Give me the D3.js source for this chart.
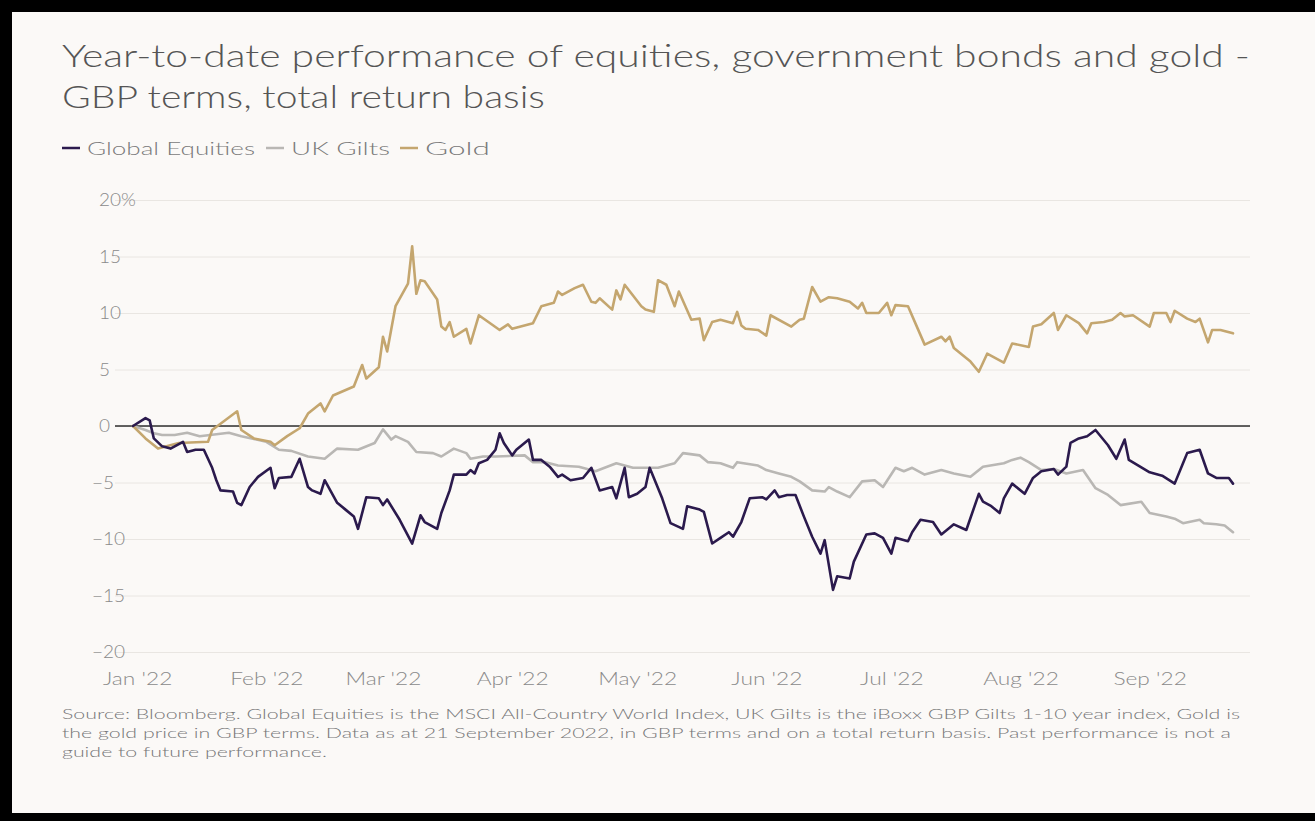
<!DOCTYPE html>
<html>
<head>
<meta charset="utf-8">
<script src="https://cdn.jsdelivr.net/npm/d3@7"></script>
<style>
  html, body { margin: 0; padding: 0; background: #000; }
  svg { display: block; }
  text { font-family: Lato, "Open Sans", "Noto Sans", sans-serif; }
</style>
</head>
<body>
<svg id="chart" width="1315" height="821"></svg>
<script>
// ---------- DATA ----------
const titleLines = ["Year-to-date performance of equities, government bonds and gold -", "GBP terms, total return basis"];
const seriesNames = ["Global Equities", "UK Gilts", "Gold"];
const seriesColors = ["#2b1a4d", "#b9b7b4", "#c4a66f"];
const yTicks = [-20, -15, -10, -5, 0, 5, 10, 15, 20];
const xTickDates = ["2022-01-01","2022-02-01","2022-03-01","2022-04-01","2022-05-01","2022-06-01","2022-07-01","2022-08-01","2022-09-01"];
const xTickLabels = ["Jan '22","Feb '22","Mar '22","Apr '22","May '22","Jun '22","Jul '22","Aug '22","Sep '22"];
const footnoteLines = [
  "Source: Bloomberg. Global Equities is the MSCI All-Country World Index, UK Gilts is the iBoxx GBP Gilts 1-10 year index, Gold is",
  "the gold price in GBP terms. Data as at 21 September 2022, in GBP terms and on a total return basis. Past performance is not a",
  "guide to future performance."
];

const equities = [
["2021-12-31",0],["2022-01-03",0.7],["2022-01-04",0.5],["2022-01-05",-1.1],["2022-01-07",-1.8],["2022-01-09",-2.0],
["2022-01-10",-1.8],["2022-01-12",-1.4],["2022-01-13",-2.3],["2022-01-15",-2.1],["2022-01-17",-2.1],["2022-01-19",-3.7],
["2022-01-20",-4.8],["2022-01-21",-5.7],["2022-01-24",-5.8],["2022-01-25",-6.8],["2022-01-26",-7.0],["2022-01-28",-5.4],
["2022-01-30",-4.5],["2022-02-02",-3.7],["2022-02-03",-5.5],["2022-02-04",-4.6],["2022-02-07",-4.5],["2022-02-09",-2.9],
["2022-02-11",-5.4],["2022-02-12",-5.7],["2022-02-14",-6.0],["2022-02-15",-4.8],["2022-02-18",-6.8],["2022-02-20",-7.4],
["2022-02-22",-8.0],["2022-02-23",-9.1],["2022-02-25",-6.3],["2022-02-28",-6.4],["2022-03-01",-7.0],["2022-03-02",-6.5],
["2022-03-05",-8.3],["2022-03-08",-10.4],["2022-03-10",-7.9],["2022-03-11",-8.5],["2022-03-14",-9.1],["2022-03-15",-7.7],
["2022-03-17",-5.7],["2022-03-18",-4.3],["2022-03-21",-4.3],["2022-03-22",-3.9],["2022-03-23",-4.2],["2022-03-24",-3.3],
["2022-03-26",-3.0],["2022-03-28",-2.1],["2022-03-29",-0.65],["2022-03-30",-1.5],["2022-04-01",-2.6],["2022-04-02",-2.1],
["2022-04-05",-1.2],["2022-04-06",-3.0],["2022-04-08",-3.0],["2022-04-10",-3.6],["2022-04-12",-4.5],["2022-04-13",-4.3],
["2022-04-15",-4.8],["2022-04-18",-4.6],["2022-04-20",-3.7],["2022-04-22",-5.7],["2022-04-25",-5.4],["2022-04-26",-6.4],
["2022-04-28",-3.7],["2022-04-29",-6.3],["2022-05-01",-6.0],["2022-05-03",-5.4],["2022-05-04",-3.7],["2022-05-07",-6.4],
["2022-05-09",-8.6],["2022-05-12",-9.1],["2022-05-13",-7.1],["2022-05-16",-7.4],["2022-05-17",-7.6],["2022-05-19",-10.4],
["2022-05-21",-9.9],["2022-05-23",-9.4],["2022-05-24",-9.8],["2022-05-26",-8.5],["2022-05-28",-6.4],["2022-05-31",-6.3],
["2022-06-01",-6.5],["2022-06-03",-5.7],["2022-06-04",-6.3],["2022-06-06",-6.1],["2022-06-08",-6.1],["2022-06-10",-8.0],
["2022-06-12",-9.8],["2022-06-14",-11.3],["2022-06-15",-10.1],["2022-06-17",-14.5],["2022-06-18",-13.3],["2022-06-21",-13.5],
["2022-06-22",-12.0],["2022-06-25",-9.6],["2022-06-27",-9.5],["2022-06-29",-9.9],["2022-07-01",-11.3],["2022-07-02",-9.9],
["2022-07-05",-10.2],["2022-07-06",-9.4],["2022-07-08",-8.3],["2022-07-11",-8.5],["2022-07-13",-9.6],["2022-07-16",-8.7],
["2022-07-19",-9.2],["2022-07-22",-6.0],["2022-07-23",-6.7],["2022-07-25",-7.1],["2022-07-27",-7.7],["2022-07-28",-6.4],
["2022-07-30",-5.1],["2022-08-02",-6.0],["2022-08-04",-4.6],["2022-08-06",-4.0],["2022-08-09",-3.8],["2022-08-10",-4.3],
["2022-08-12",-3.6],["2022-08-13",-1.5],["2022-08-15",-1.1],["2022-08-17",-0.9],["2022-08-19",-0.35],["2022-08-22",-1.7],
["2022-08-24",-2.9],["2022-08-26",-1.2],["2022-08-27",-3.0],["2022-09-01",-4.1],["2022-09-04",-4.4],["2022-09-07",-5.1],
["2022-09-09",-3.3],["2022-09-10",-2.4],["2022-09-13",-2.1],["2022-09-15",-4.2],["2022-09-17",-4.6],["2022-09-20",-4.6],
["2022-09-21",-5.1]
];

const gilts = [
["2021-12-31",0],["2022-01-03",-0.35],["2022-01-05",-0.65],["2022-01-07",-0.8],["2022-01-10",-0.8],["2022-01-13",-0.6],
["2022-01-16",-0.9],["2022-01-23",-0.6],["2022-01-26",-0.9],["2022-02-01",-1.4],["2022-02-04",-2.1],["2022-02-07",-2.2],
["2022-02-11",-2.7],["2022-02-15",-2.9],["2022-02-18",-2.0],["2022-02-23",-2.1],["2022-02-27",-1.5],["2022-03-01",-0.3],
["2022-03-03",-1.2],["2022-03-04",-0.9],["2022-03-07",-1.4],["2022-03-09",-2.3],["2022-03-13",-2.4],["2022-03-15",-2.7],
["2022-03-18",-2.0],["2022-03-21",-2.4],["2022-03-22",-2.9],["2022-03-25",-2.7],["2022-03-28",-2.7],["2022-04-04",-2.6],
["2022-04-06",-3.2],["2022-04-09",-3.2],["2022-04-12",-3.5],["2022-04-17",-3.6],["2022-04-21",-4.0],["2022-04-26",-3.3],
["2022-04-30",-3.7],["2022-05-06",-3.7],["2022-05-10",-3.3],["2022-05-12",-2.4],["2022-05-16",-2.6],["2022-05-18",-3.2],
["2022-05-21",-3.3],["2022-05-24",-3.7],["2022-05-25",-3.2],["2022-05-30",-3.5],["2022-06-01",-3.9],["2022-06-04",-4.2],
["2022-06-07",-4.5],["2022-06-09",-4.9],["2022-06-12",-5.7],["2022-06-15",-5.8],["2022-06-16",-5.4],["2022-06-18",-5.8],
["2022-06-21",-6.3],["2022-06-24",-4.9],["2022-06-27",-4.8],["2022-06-29",-5.4],["2022-07-02",-3.7],["2022-07-04",-4.0],
["2022-07-06",-3.7],["2022-07-09",-4.3],["2022-07-13",-3.9],["2022-07-16",-4.2],["2022-07-20",-4.5],["2022-07-23",-3.6],
["2022-07-28",-3.3],["2022-07-30",-3.0],["2022-08-01",-2.8],["2022-08-03",-3.2],["2022-08-06",-3.9],["2022-08-09",-3.8],
["2022-08-12",-4.2],["2022-08-16",-3.9],["2022-08-19",-5.5],["2022-08-22",-6.1],["2022-08-25",-7.0],["2022-08-30",-6.7],
["2022-09-01",-7.7],["2022-09-05",-8.0],["2022-09-07",-8.2],["2022-09-09",-8.6],["2022-09-13",-8.3],["2022-09-14",-8.6],
["2022-09-17",-8.7],["2022-09-19",-8.8],["2022-09-21",-9.4]
];

const gold = [
["2021-12-31",0],["2022-01-03",-1.1],["2022-01-06",-2.0],["2022-01-11",-1.5],["2022-01-18",-1.4],["2022-01-19",-0.35],
["2022-01-25",1.3],["2022-01-26",-0.35],["2022-01-29",-1.1],["2022-02-02",-1.4],["2022-02-03",-1.7],["2022-02-06",-0.9],
["2022-02-09",-0.2],["2022-02-11",1.1],["2022-02-14",2.0],["2022-02-15",1.3],["2022-02-17",2.7],["2022-02-22",3.5],
["2022-02-24",5.4],["2022-02-25",4.2],["2022-02-28",5.2],["2022-03-01",7.9],["2022-03-02",6.6],["2022-03-04",10.6],
["2022-03-07",12.6],["2022-03-08",15.9],["2022-03-09",11.7],["2022-03-10",12.9],["2022-03-11",12.8],["2022-03-14",11.2],
["2022-03-15",8.8],["2022-03-16",8.5],["2022-03-17",9.2],["2022-03-18",7.9],["2022-03-21",8.6],["2022-03-22",7.3],
["2022-03-24",9.8],["2022-03-29",8.5],["2022-03-31",9.0],["2022-04-01",8.6],["2022-04-06",9.1],["2022-04-08",10.6],
["2022-04-11",10.9],["2022-04-12",11.9],["2022-04-13",11.6],["2022-04-16",12.2],["2022-04-18",12.5],["2022-04-20",11.0],
["2022-04-21",10.9],["2022-04-22",11.3],["2022-04-25",10.3],["2022-04-26",12.0],["2022-04-27",11.2],["2022-04-28",12.5],
["2022-05-02",10.6],["2022-05-03",10.3],["2022-05-05",10.1],["2022-05-06",12.9],["2022-05-08",12.5],["2022-05-10",10.6],
["2022-05-11",11.9],["2022-05-14",9.4],["2022-05-16",9.5],["2022-05-17",7.6],["2022-05-19",9.2],["2022-05-21",9.4],
["2022-05-24",9.1],["2022-05-25",10.1],["2022-05-26",8.9],["2022-05-27",8.6],["2022-05-30",8.5],["2022-06-01",8.0],
["2022-06-02",9.8],["2022-06-07",8.8],["2022-06-09",9.4],["2022-06-10",9.5],["2022-06-12",12.3],["2022-06-14",11.0],
["2022-06-16",11.4],["2022-06-18",11.3],["2022-06-21",11.0],["2022-06-23",10.4],["2022-06-24",10.9],["2022-06-25",10.0],
["2022-06-28",10.0],["2022-06-30",10.9],["2022-07-01",9.8],["2022-07-02",10.7],["2022-07-05",10.6],["2022-07-09",7.2],
["2022-07-13",7.9],["2022-07-14",7.5],["2022-07-15",7.9],["2022-07-16",6.9],["2022-07-20",5.7],["2022-07-22",4.8],
["2022-07-24",6.4],["2022-07-28",5.6],["2022-07-30",7.3],["2022-08-03",7.0],["2022-08-04",8.8],["2022-08-06",9.0],
["2022-08-09",10.0],["2022-08-10",8.5],["2022-08-12",9.8],["2022-08-15",9.1],["2022-08-17",8.2],["2022-08-18",9.1],
["2022-08-21",9.2],["2022-08-23",9.4],["2022-08-25",10.0],["2022-08-26",9.7],["2022-08-28",9.8],["2022-09-01",8.8],
["2022-09-02",10.0],["2022-09-05",10.0],["2022-09-06",9.2],["2022-09-07",10.2],["2022-09-10",9.5],["2022-09-12",9.2],
["2022-09-13",9.5],["2022-09-15",7.4],["2022-09-16",8.5],["2022-09-18",8.5],["2022-09-21",8.2]
];

// ---------- DRAW ----------
const parse = d3.timeParse("%Y-%m-%d");
const svg = d3.select("#chart");

// widen text horizontally (the original uses a wide geometric face)
function stretch(sel, factor) {
  sel.each(function () {
    const w = this.getComputedTextLength();
    d3.select(this).attr("textLength", w * factor).attr("lengthAdjust", "spacingAndGlyphs");
  });
}

// card background
svg.append("rect").attr("x", 12).attr("y", 12).attr("width", 1303).attr("height", 801).attr("fill", "#fbf9f7");

// title
const titleWidths = [1188, 483];
svg.append("g").selectAll("text").data(titleLines).join("text")
  .attr("x", 62).attr("y", (d, i) => 67 + i * 41)
  .attr("font-size", 31).attr("font-weight", 300).attr("fill", "#555")
  .attr("textLength", (d, i) => titleWidths[i]).attr("lengthAdjust", "spacingAndGlyphs")
  .text(d => d);

// legend
const legendX = [62, 266, 400];
const legendW = [168, 99, 65];
const lg = svg.append("g").selectAll("g").data(seriesNames).join("g")
  .attr("transform", (d, i) => `translate(${legendX[i]},148)`);
lg.append("line").attr("x1", 0).attr("x2", 18).attr("y1", 0).attr("y2", 0)
  .attr("stroke", (d, i) => seriesColors[i]).attr("stroke-width", 2.5);
lg.append("text").attr("x", 25).attr("y", 6.5).attr("font-size", 17).attr("font-weight", 300).attr("fill", "#7a7a7a")
  .attr("textLength", (d, i) => legendW[i]).attr("lengthAdjust", "spacingAndGlyphs")
  .text(d => d);

// scales
const x = d3.scaleTime().domain([parse("2021-12-31"), parse("2022-09-21")]).range([133, 1233]);
const y = d3.scaleLinear().domain([-20, 20]).range([652, 200]);

// y axis with gridlines
const yAxis = svg.append("g").attr("transform", "translate(115,0)")
  .call(d3.axisLeft(y).tickValues(yTicks).tickSize(-1135)
    .tickFormat(d => d === 20 ? "20%" : (d < 0 ? "\u2212" + Math.abs(d) : String(d))));
yAxis.select(".domain").remove();
yAxis.selectAll(".tick line").attr("stroke", "#e9e6e2").attr("stroke-width", 1);
yAxis.selectAll(".tick text")
  .attr("text-anchor", "start")
  .attr("x", d => d < 0 ? -23 : -16)
  .attr("dy", "0.35em")
  .attr("font-size", 17).attr("font-weight", 300).attr("fill", "#8a8a8a")
  .style("font-family", "Lato, 'Open Sans', sans-serif");
stretch(yAxis.selectAll(".tick text"), 1.12);

// zero line
svg.append("line").attr("x1", 115).attr("x2", 1250).attr("y1", y(0)).attr("y2", y(0))
  .attr("stroke", "#2f2f2f").attr("stroke-width", 1.5);

// x axis
const xAxis = svg.append("g").attr("transform", "translate(0,669)")
  .call(d3.axisBottom(x).tickValues(xTickDates.map(parse)).tickSize(0)
    .tickFormat((d, i) => xTickLabels[i]));
xAxis.select(".domain").remove();
xAxis.selectAll(".tick text").attr("dy", "0.9em").attr("y", 0)
  .attr("font-size", 17.5).attr("font-weight", 300).attr("fill", "#8a8a8a")
  .style("font-family", "Lato, 'Open Sans', sans-serif");
stretch(xAxis.selectAll(".tick text"), 1.3);

// lines
const line = d3.line().x(d => x(parse(d[0]))).y(d => y(d[1])).curve(d3.curveLinear);
const allSeries = [equities, gilts, gold];
const drawOrder = [1, 2, 0];
svg.append("g").selectAll("path").data(drawOrder).join("path")
  .attr("d", i => line(allSeries[i]))
  .attr("fill", "none")
  .attr("stroke", i => seriesColors[i])
  .attr("stroke-width", 2.6)
  .attr("stroke-linejoin", "round")
  .attr("stroke-linecap", "round");

// footnote
const foot = svg.append("g").selectAll("text").data(footnoteLines).join("text")
  .attr("x", 62).attr("y", (d, i) => 719 + i * 19)
  .attr("font-size", 14.5).attr("font-weight", 300).attr("fill", "#777").text(d => d);
const footFactor = 1178 / foot.nodes()[0].getComputedTextLength();
stretch(foot, footFactor);
</script>
</body>
</html>
